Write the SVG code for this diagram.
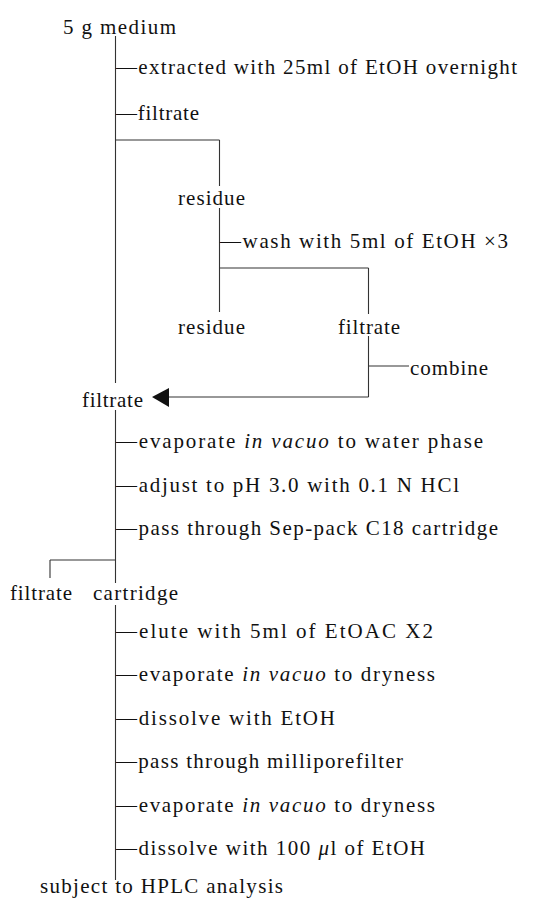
<svg xmlns="http://www.w3.org/2000/svg" width="537" height="899" viewBox="0 0 537 899">
<style>
text{font-family:"Liberation Serif","Times New Roman",serif;font-size:21px;fill:#111}
.it{font-style:italic}
.ln{stroke:#333;stroke-width:1.1;fill:none}
</style>
<rect width="537" height="899" fill="#fff"/>
<g id="connectors">
<path class="ln" d="M115.5 36V383"/>
<path class="ln" d="M115.5 140H219.5"/>
<path class="ln" d="M219.5 140V186M219.5 208V312"/>
<path class="ln" d="M219.5 268H368.5"/>
<path class="ln" d="M368.5 268V314M368.5 336V397"/>
<path class="ln" d="M369 366H409"/>
<path class="ln" d="M368.5 397H168"/>
<polygon points="152,397 169,388 169,407" fill="#111"/>
<path class="ln" d="M115.5 410V583M115.5 605V880"/>
<path class="ln" d="M50 560H115.5M50 560V578"/>
</g>
<g id="n-medium"><text x="63" y="34" textLength="113" lengthAdjust="spacing">5 g  medium</text></g>
<g id="s-extract"><text x="116" y="74" textLength="401" lengthAdjust="spacing">—extracted with 25ml of EtOH overnight</text></g>
<g id="s-filtrate1"><text x="116" y="120" textLength="83" lengthAdjust="spacing">—filtrate</text></g>
<g id="n-residue1"><text x="178" y="205" textLength="67" lengthAdjust="spacing">residue</text></g>
<g id="s-wash"><text x="220" y="248" textLength="288" lengthAdjust="spacing">—wash with 5ml of EtOH ×3</text></g>
<g id="n-residue2"><text x="178" y="334" textLength="67" lengthAdjust="spacing">residue</text></g>
<g id="n-filtrate2"><text x="338" y="334" textLength="62" lengthAdjust="spacing">filtrate</text></g>
<g id="s-combine"><text x="410" y="375" textLength="78" lengthAdjust="spacing">combine</text></g>
<g id="n-filtrate3"><text x="82" y="407" textLength="61" lengthAdjust="spacing">filtrate</text></g>
<g id="s-evap1"><text x="116" y="448" textLength="367" lengthAdjust="spacing">—evaporate <tspan class="it">in vacuo</tspan> to water phase</text></g>
<g id="s-adjust"><text x="116" y="492" textLength="343" lengthAdjust="spacing">—adjust to pH 3.0 with 0.1 N HCl</text></g>
<g id="s-sep"><text x="116" y="535" textLength="382" lengthAdjust="spacing">—pass through Sep-pack C18 cartridge</text></g>
<g id="n-filtrate4"><text x="10" y="600" textLength="62" lengthAdjust="spacing">filtrate</text></g>
<g id="n-cartridge"><text x="93" y="600" textLength="85" lengthAdjust="spacing">cartridge</text></g>
<g id="s-elute"><text x="116" y="638" textLength="317" lengthAdjust="spacing">—elute with 5ml of EtOAC X2</text></g>
<g id="s-evap2"><text x="116" y="681" textLength="319" lengthAdjust="spacing">—evaporate <tspan class="it">in vacuo</tspan> to dryness</text></g>
<g id="s-dissolve1"><text x="116" y="725" textLength="219" lengthAdjust="spacing">—dissolve with EtOH</text></g>
<g id="s-millipore"><text x="116" y="768" textLength="287" lengthAdjust="spacing">—pass through milliporefilter</text></g>
<g id="s-evap3"><text x="116" y="812" textLength="319" lengthAdjust="spacing">—evaporate <tspan class="it">in vacuo</tspan> to dryness</text></g>
<g id="s-dissolve2"><text x="116" y="855" textLength="309" lengthAdjust="spacing">—dissolve with 100 <tspan class="it">μ</tspan>l of EtOH</text></g>
<g id="n-hplc"><text x="40" y="893" textLength="243" lengthAdjust="spacing">subject to HPLC analysis</text></g>
</svg>
